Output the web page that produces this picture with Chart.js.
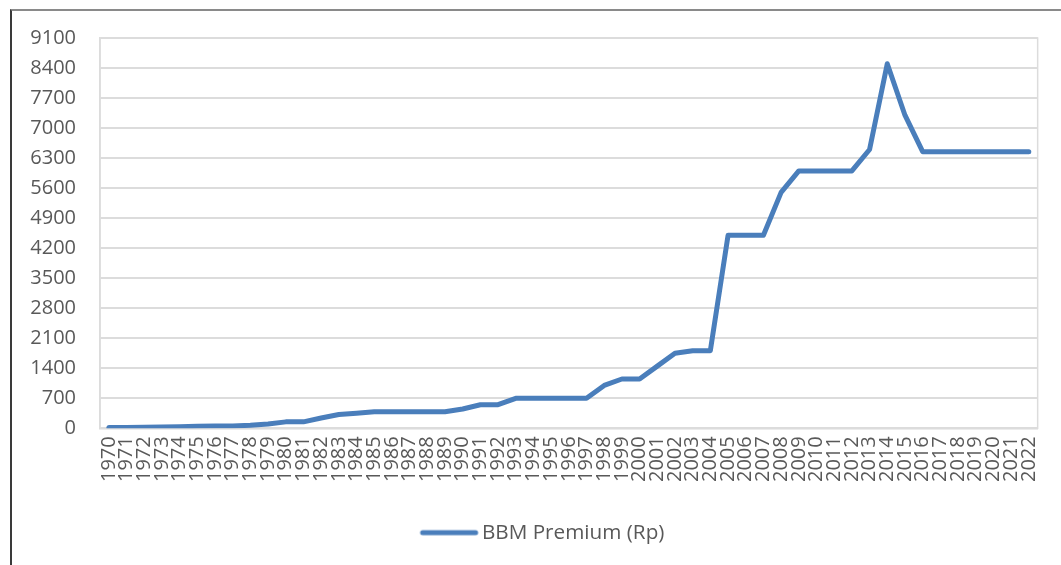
<!DOCTYPE html>
<html>
<head>
<meta charset="utf-8">
<script src="https://cdn.jsdelivr.net/npm/chart.js@4/dist/chart.umd.min.js"></script>
<style>
    html, body { margin: 0; padding: 0; background: #fff; }
    #frame {
        position: absolute;
        left: 10px;
        top: 9px;
        width: 1051px;
        height: 556px;
        border-left: 2px solid #3a3a3a;
        border-top: 2px solid #8a8a8a;
    }
    #box { position: relative; width: 1049px; height: 554px; }
</style>
</head>
<body>
<div id="frame"><div id="box"><canvas id="chart"></canvas></div></div>
<script>
// Premium fuel price per year
const years = [];
for (let y = 1970; y <= 2022; y++) years.push(String(y));

const premiumPrices = [
    16, 20, 25, 30, 35, 45, 55, 55, 70, 100,
    150, 150, 240, 320, 350, 385, 385, 385, 385, 385,
    450, 550, 550, 700, 700, 700, 700, 700, 1000, 1150,
    1150, 1450, 1750, 1810, 1810, 4500, 4500, 4500, 5500, 6000,
    6000, 6000, 6000, 6500, 8500, 7300, 6450, 6450, 6450, 6450,
    6450, 6450, 6450
];

const seriesLabel = 'BBM Premium (Rp)';
const yMax = 9100;
const yStep = 700;

const lineColor = '#4a7ebb';
const gridColor = '#dcdcdc';
const textColor = '#595959';
const fontFamily = "'Open Sans', 'Liberation Sans', sans-serif";

// Legend swatch: a short thick line at the right end of a wider box,
// so it sits close to the label text
function legendSwatch() {
    const c = document.createElement('canvas');
    c.width = 102;
    c.height = 8;
    const g = c.getContext('2d');
    g.strokeStyle = lineColor;
    g.lineWidth = 5;
    g.lineCap = 'round';
    g.beginPath();
    g.moveTo(44, 4);
    g.lineTo(97, 4);
    g.stroke();
    return c;
}

// Outline around the plot area (right edge isn't drawn by the axes)
const plotFrame = {
    id: 'plotFrame',
    beforeDatasetsDraw(chart) {
        const { ctx, chartArea } = chart;
        ctx.save();
        ctx.strokeStyle = gridColor;
        ctx.lineWidth = 1.5;
        ctx.strokeRect(chartArea.left, chartArea.top, chartArea.width, chartArea.height);
        ctx.restore();
    }
};

const ctx = document.getElementById('chart').getContext('2d');
new Chart(ctx, {
    type: 'line',
    data: {
        labels: years,
        datasets: [{
            label: seriesLabel,
            data: premiumPrices,
            borderColor: lineColor,
            backgroundColor: lineColor,
            borderWidth: 5,
            borderJoinStyle: 'round',
            borderCapStyle: 'round',
            pointRadius: 0,
            tension: 0,
            fill: false
        }]
    },
    options: {
        responsive: true,
        maintainAspectRatio: false,
        animation: false,
        layout: { padding: { top: 27, right: 21, left: 0, bottom: 12 } },
        plugins: {
            tooltip: { enabled: false },
            legend: {
                position: 'bottom',
                labels: {
                    usePointStyle: true,
                    pointStyle: legendSwatch(),
                    pointStyleWidth: 84,
                    boxHeight: 8,
                    color: textColor,
                    padding: 10,
                    font: { family: fontFamily, size: 20.7 }
                }
            }
        },
        scales: {
            x: {
                offset: true,
                grid: { display: false, drawTicks: false },
                border: { display: true, color: gridColor, width: 1.5 },
                ticks: {
                    autoSkip: false,
                    minRotation: 90,
                    maxRotation: 90,
                    padding: 8,
                    color: textColor,
                    font: { family: fontFamily, size: 20 }
                },
                afterFit(scale) { scale.height = 84; }
            },
            y: {
                min: 0,
                max: yMax,
                grid: {
                    color: gridColor,
                    lineWidth: 2,
                    drawTicks: true,
                    tickLength: 16,
                    tickColor: 'rgba(0,0,0,0)'
                },
                border: { display: true, color: gridColor, width: 1.5 },
                ticks: {
                    stepSize: yStep,
                    padding: 8,
                    color: textColor,
                    font: { family: fontFamily, size: 20 },
                    callback: (v) => String(v)
                },
                afterFit(scale) { scale.width = 88; }
            }
        }
    },
    plugins: [plotFrame]
});
</script>
</body>
</html>
